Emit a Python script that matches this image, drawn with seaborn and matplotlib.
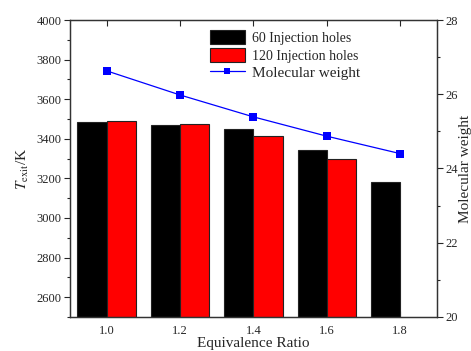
import matplotlib
matplotlib.use("Agg")
import matplotlib.pyplot as plt
import seaborn as sns
import pandas as pd
from matplotlib.patches import Patch
from matplotlib.lines import Line2D
from matplotlib.ticker import MultipleLocator

# Exit temperature for two injector configurations
ratio = [1.0, 1.2, 1.4, 1.6, 1.8]
temp_60 = [3487, 3472, 3448, 3342, 3180]
ratio_120 = [1.0, 1.2, 1.4, 1.6]
temp_120 = [3488, 3474, 3414, 3296]
# Molecular weight of the exit gas
mol_weight = [26.63, 25.98, 25.39, 24.87, 24.40]

series_names = ["60 Injection holes", "120 Injection holes"]
bar_colors = ["#000000", "#ff0000"]

sns.set_theme(style="white")
plt.rcParams["font.family"] = ["Liberation Serif", "DejaVu Serif"]
plt.rcParams["mathtext.fontset"] = "stix"

bars = pd.DataFrame({
    "ratio": ratio + ratio_120,
    "temp": temp_60 + temp_120,
    "config": [series_names[0]] * len(ratio) + [series_names[1]] * len(ratio_120),
})
line = pd.DataFrame({"ratio": ratio, "mw": mol_weight})

fig = plt.figure(figsize=(4.71, 3.51), dpi=100)
ax = fig.add_axes([0.1486, 0.0969, 0.7792, 0.8461])

sns.barplot(data=bars, x="ratio", y="temp", hue="config", hue_order=series_names,
            palette=bar_colors, saturation=1, native_scale=True, width=0.8, gap=0,
            edgecolor="#222222", linewidth=0.8, legend=False, ax=ax, zorder=2)

ax.set_xlim(0.9, 1.9)
ax.set_ylim(2500, 4000)
ax.set_xticks(ratio)
ax.set_xticklabels([f"{r:.1f}" for r in ratio])
ax.set_yticks([2600, 2800, 3000, 3200, 3400, 3600, 3800, 4000])
ax.yaxis.set_minor_locator(MultipleLocator(100))
ax.tick_params(axis="y", which="major", direction="out", length=4, width=0.8,
               labelsize=9, pad=2, left=True)
ax.tick_params(axis="y", which="minor", direction="out", length=2.5, width=0.8, left=True)
ax.tick_params(axis="x", which="major", direction="in", length=4, width=0.8,
               labelsize=9, pad=6, top=True, bottom=True)
ax.set_xlabel("Equivalence Ratio", fontsize=11, labelpad=0)
ax.set_ylabel(r"$T_{\mathrm{exit}}$/K", fontsize=11, labelpad=4)
for s in ax.spines.values():
    s.set_color("#333333")
    s.set_linewidth(0.9)

ax2 = ax.twinx()
sns.lineplot(data=line, x="ratio", y="mw", color="#0000ff", marker="s",
             markersize=6, markeredgewidth=0, linewidth=0.9, ax=ax2, zorder=3)
ax2.set_ylim(20, 28)
ax2.set_yticks([20, 22, 24, 26, 28])
ax2.yaxis.set_minor_locator(MultipleLocator(1))
ax2.tick_params(axis="y", which="major", direction="out", length=4, width=0.8,
                labelsize=9, pad=2, right=True)
ax2.tick_params(axis="y", which="minor", direction="out", length=2.5, width=0.8, right=True)
ax2.set_ylabel("Molecular weight", fontsize=11, labelpad=1)
ax2.set_xlabel("")
ax2.set_xlim(0.9, 1.9)
for s in ax2.spines.values():
    s.set_color("#333333")
    s.set_linewidth(0.9)

handles = [
    Patch(facecolor=bar_colors[0], edgecolor="#222222", linewidth=0.8),
    Patch(facecolor=bar_colors[1], edgecolor="#222222", linewidth=0.8),
    Line2D([], [], color="#0000ff", marker="s", markersize=5, markeredgewidth=0, linewidth=0.9),
]
leg = ax2.legend(handles, series_names + ["Molecular weight"], loc="upper left",
                 bbox_to_anchor=(0.366, 0.985), frameon=False, fontsize=10,
                 handlelength=2.5, handleheight=1.22, handletextpad=0.5,
                 labelspacing=0.2, borderaxespad=0)
leg.get_texts()[2].set_fontsize(11)

fig.savefig("out.png", dpi=100)
